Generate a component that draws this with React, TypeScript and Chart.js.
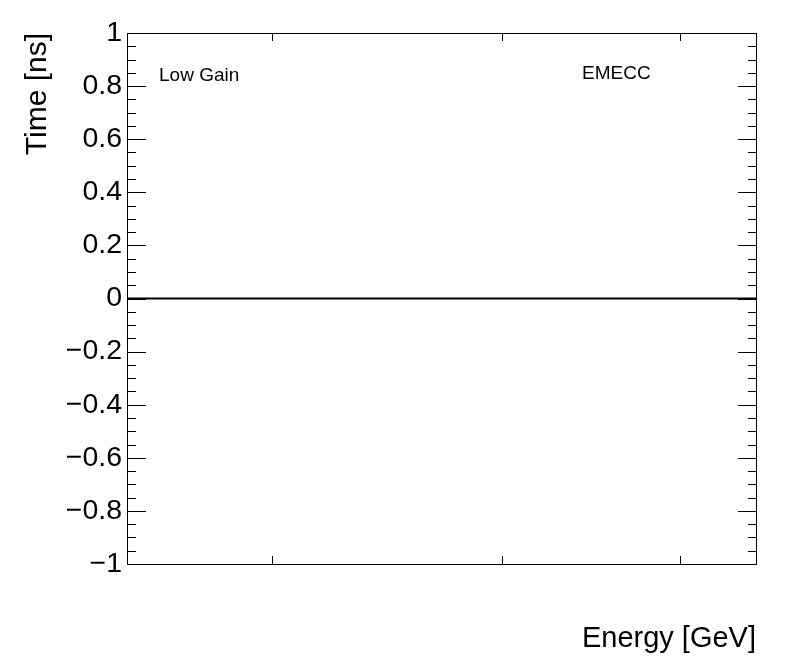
import React, { useEffect, useRef } from "react";
import { Chart, registerables } from "chart.js";

Chart.register(...registerables);

// ---- data ----
const xRange = [0, 100];
const xTickValues = [23.05, 59.6, 87.9];
const yRange = [-1, 1];
const yStep = 0.2;
const yMinorPerMajor = 4;
const zeroLine = [
  { x: 0, y: 0 },
  { x: 100, y: 0 },
];
const yAxisTitle = "Time [ns]";
const xAxisTitle = "Energy [GeV]";
const leftLabel = "Low Gain";
const rightLabel = "EMECC";

const FONT = "'Liberation Sans', Arial, Helvetica, sans-serif";

function fmt(v: number): string {
  const r = Math.round(v * 10) / 10;
  if (Math.abs(r) < 1e-9) return "0";
  const s = Math.abs(r).toString();
  return r < 0 ? "\u2212" + s : s;
}

const framePlugin = {
  id: "rootFrame",
  afterDraw(chart: any) {
    const { ctx, chartArea } = chart;
    const { left, right, top, bottom } = chartArea;
    const ys = chart.scales.y;
    const xs = chart.scales.x;
    ctx.save();
    ctx.strokeStyle = "#000";
    ctx.lineWidth = 1;
    ctx.beginPath();
    ctx.rect(left + 0.5, top + 0.5, right - left, bottom - top);
    ctx.stroke();

    // y ticks (major + minor), both sides, inward
    ctx.beginPath();
    const nMajor = Math.round((yRange[1] - yRange[0]) / yStep);
    for (let i = 0; i <= nMajor; i++) {
      const v = yRange[0] + i * yStep;
      const py = Math.round(ys.getPixelForValue(v)) + 0.5;
      ctx.moveTo(left, py);
      ctx.lineTo(left + 19, py);
      ctx.moveTo(right + 1, py);
      ctx.lineTo(right + 1 - 19, py);
      if (i < nMajor) {
        for (let k = 1; k < yMinorPerMajor; k++) {
          const mv = v + (k * yStep) / yMinorPerMajor;
          const mpy = Math.round(ys.getPixelForValue(mv)) + 0.5;
          ctx.moveTo(left, mpy);
          ctx.lineTo(left + 9, mpy);
          ctx.moveTo(right + 1, mpy);
          ctx.lineTo(right + 1 - 9, mpy);
        }
      }
    }
    // x ticks top and bottom, inward
    for (const v of xTickValues) {
      const px = Math.round(xs.getPixelForValue(v)) + 0.5;
      ctx.moveTo(px, bottom);
      ctx.lineTo(px, bottom - 8);
      ctx.moveTo(px, top);
      ctx.lineTo(px, top + 8);
    }
    ctx.stroke();

    // annotations
    ctx.fillStyle = "#000";
    ctx.textBaseline = "alphabetic";
    ctx.textAlign = "left";
    ctx.font = `19px ${FONT}`;
    ctx.fillText(leftLabel, left + 32, 80.5);
    ctx.fillText(rightLabel, left + 455, 78.5);
    ctx.restore();
  },
};

export default function App() {
  const ref = useRef<HTMLCanvasElement | null>(null);
  useEffect(() => {
    document.body.style.margin = "0";
    const canvas = ref.current;
    if (!canvas) return;
    const chart = new Chart(canvas, {
      type: "line",
      data: {
        datasets: [
          {
            data: zeroLine,
            borderColor: "#000",
            borderWidth: 2,
            pointRadius: 0,
            fill: false,
          },
        ],
      },
      options: {
        animation: false,
        responsive: false,
        maintainAspectRatio: false,
        devicePixelRatio: 1,
        layout: { padding: { top: 33, right: 40, left: 0, bottom: 0 } },
        plugins: {
          legend: { display: false },
          tooltip: { enabled: false },
        },
        scales: {
          x: {
            type: "linear",
            min: xRange[0],
            max: xRange[1],
            grid: { display: false, drawTicks: false },
            border: { display: false },
            afterBuildTicks: (s: any) => {
              s.ticks = xTickValues.map((v) => ({ value: v }));
            },
            afterFit: (s: any) => {
              s.height = 108;
            },
            ticks: { display: false },
            title: {
              display: true,
              text: xAxisTitle,
              align: "end",
              color: "#000",
              font: { family: FONT, size: 29 },
              padding: { top: 0, bottom: 16 },
            },
          },
          y: {
            type: "linear",
            min: yRange[0],
            max: yRange[1],
            grid: { display: false, drawTicks: false },
            border: { display: false },
            afterFit: (s: any) => {
              s.width = 127;
            },
            ticks: {
              stepSize: yStep,
              color: "#000",
              padding: 5,
              font: { family: FONT, size: 28.5 },
              callback: (v: any) => fmt(Number(v)),
            },
            title: {
              display: true,
              text: yAxisTitle,
              align: "end",
              color: "#000",
              font: { family: FONT, size: 30 },
              padding: { top: 20, bottom: 0 },
            },
          },
        },
      },
      plugins: [framePlugin],
    });
    return () => chart.destroy();
  }, []);
  return (
    <div style={{ position: "absolute", left: 0, top: 0, width: 796, height: 672, background: "#fff" }}>
      <canvas ref={ref} width={796} height={672} style={{ width: 796, height: 672 }} />
    </div>
  );
}
